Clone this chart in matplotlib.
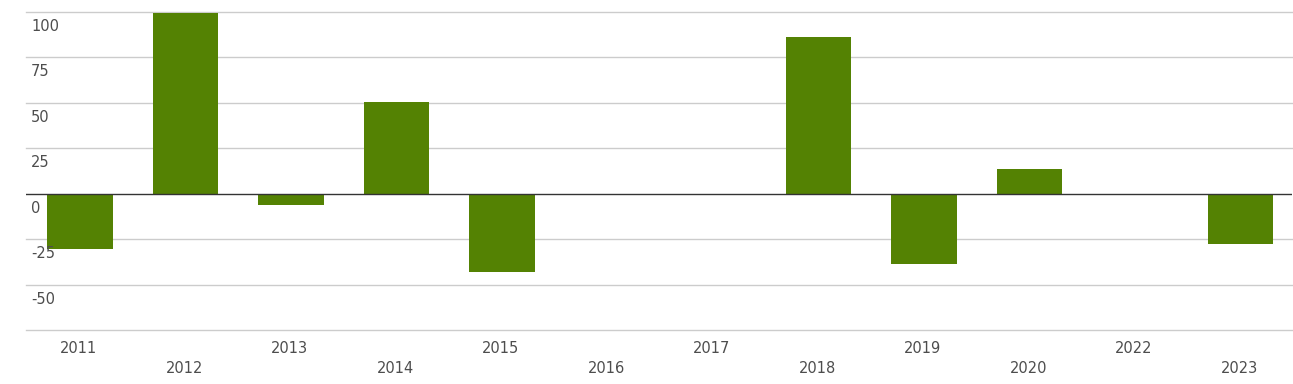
import matplotlib
matplotlib.use("Agg")
import matplotlib.pyplot as plt

years = ["2011", "2012", "2013", "2014", "2015", "2016", "2017", "2018", "2019", "2020", "2022", "2023"]
values = [-30.5, 99.6, -6, 50.7, -43.3, 0, 0, 86, -38.5, 13.8, 0, -27.4]
yticks = [100, 75, 50, 25, 0, -25, -50]

fig = plt.figure(figsize=(12.93, 3.84), dpi=100)
ax = fig.add_axes([26/1293, 54/384, 1266/1293, 318/384])

x = range(len(years))
ax.bar([i + 0.01 for i in x], values, width=0.62, color="#548203", zorder=3)

ax.set_xlim(-0.5, len(years) - 0.5)
ax.set_ylim(-75, 100)

for v in [100, 75, 50, 25, -25, -50, -75]:
    ax.axhline(v, color="#cccccc", linewidth=1, zorder=1, clip_on=False)
ax.axhline(0, color="#333333", linewidth=1, zorder=4)

for v in yticks:
    ax.annotate(str(v), xy=(0, v), xycoords=("axes fraction", "data"),
                xytext=(5, -7), textcoords="offset pixels",
                va="top", ha="left", fontsize=10.5, color="#4d4d4d")

ax.set_yticks([])
ax.set_xticks(list(x))
ax.set_xticklabels(years, fontsize=10.5, color="#4d4d4d")
ax.tick_params(axis="x", length=0, pad=8)
for t in ax.xaxis.get_major_ticks()[1::2]:
    t.set_pad(22.5)

for s in ax.spines.values():
    s.set_visible(False)

fig.savefig("out.png", dpi=100)
